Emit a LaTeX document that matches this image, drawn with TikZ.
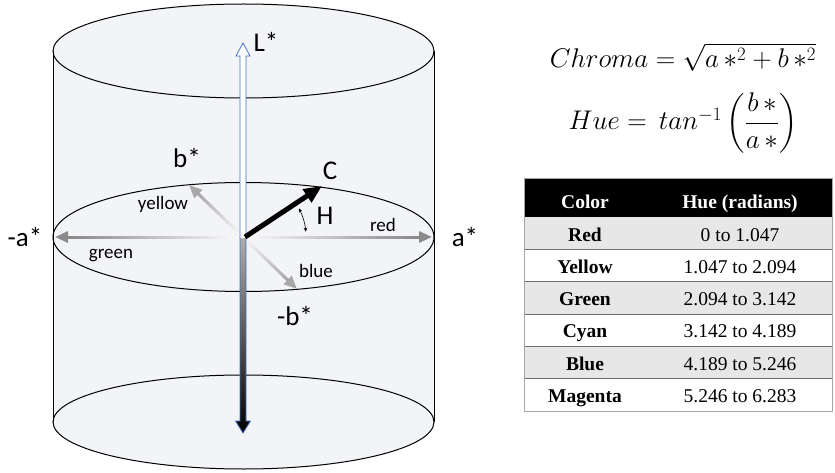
\RequirePackage{fix-cm}
\documentclass[tikz,border=0pt]{standalone}
\usepackage{amsmath}
\usepackage{fontspec}
\newfontfamily\calib{Carlito}
\newfontfamily\tnr{Liberation Serif}
\usetikzlibrary{arrows.meta,calc}
\definecolor{cylfill}{HTML}{F3F4F7}
\definecolor{lblue}{HTML}{4472C4}
\definecolor{agray}{HTML}{8A8A8A}
\definecolor{bgray}{HTML}{A8A8A8}
\definecolor{rowgray}{HTML}{E7E7E7}
\definecolor{rulegray}{HTML}{6E6E6E}
\tikzset{
  biglbl/.style={font=\calib\fontsize{27}{30}\selectfont, inner sep=0pt, anchor=base},
  smalllbl/.style={font=\calib\fontsize{19}{22}\selectfont, inner sep=0pt, anchor=base},
  cell/.style={font=\tnr\fontsize{19.5}{22}\selectfont, inner sep=0pt, anchor=base},
  cellb/.style={font=\tnr\bfseries\fontsize{19.5}{22}\selectfont, inner sep=0pt, anchor=base},
  cylline/.style={draw=black, line width=1pt},
  formula/.style={font=\fontsize{27}{32}\selectfont, inner sep=0pt, anchor=base},
}
\newcommand\gradarr[4]{%
  \foreach \i in {0,...,23}{%
    \pgfmathsetmacro\ta{\i/24*#4}%
    \pgfmathsetmacro\tb{(\i+1)/24*#4+0.005}%
    \pgfmathsetmacro\pc{4+\i*96/23}%
    \draw[line width=3pt, #3!\pc!white] ($(#1)!\ta!(#2)$) -- ($(#1)!\tb!(#2)$);}%
  \draw[#3, line width=3pt, -{Triangle[length=13pt,width=11pt]}] ($(#1)!#4-0.02!(#2)$) -- (#2);}
\begin{document}
\begin{tikzpicture}[x=1pt,y=-1pt]
\useasboundingbox (0,0) rectangle (835,473);
% ---- cylinder
\coordinate (topc) at (243.5,51);
\coordinate (midc) at (243.5,237);
\coordinate (botc) at (243.5,422);
\coordinate (TL) at (53,51);
\coordinate (TR) at (434,51);
\coordinate (BL) at (53,422);
\coordinate (BR) at (434,422);
\fill[cylfill] (TL) rectangle (BR);
\fill[cylfill] (botc) ellipse[x radius=190.5pt, y radius=47pt];
\fill[cylfill] (topc) ellipse[x radius=190.5pt, y radius=47pt];
\draw[cylline] (TL) -- (BL);
\draw[cylline] (TR) -- (BR);
\draw[cylline] (topc) ellipse[x radius=190.5pt, y radius=47pt];
\draw[cylline] (botc) ellipse[x radius=190.5pt, y radius=47pt];
\draw[cylline] (midc) ellipse[x radius=190.5pt, y radius=54.5pt];
% ---- axes in the a*b* plane
\coordinate (O) at (243,237);
\coordinate (Am) at (55,237);
\coordinate (Ap) at (432,237);
\coordinate (Yt) at (189,185);
\coordinate (Bt) at (297,289);
\gradarr{O}{Am}{agray}{0.93}
\gradarr{O}{Ap}{agray}{0.93}
\gradarr{O}{Yt}{bgray}{0.84}
\gradarr{O}{Bt}{bgray}{0.84}
% ---- L* axis
\shadedraw[top color=black!32, bottom color=black, draw=lblue, line width=0.8pt]
  (240,237) -- (240,421) -- (235.5,421) -- (243,433) -- (250.5,421) -- (246,421) -- (246,237);
\filldraw[fill=white, draw=lblue, line width=0.8pt]
  (240,238) -- (240,56) -- (236,56) -- (243,43) -- (250,56) -- (246,56) -- (246,238);
% ---- chroma vector and hue angle
\coordinate (O2) at (245,237);
\coordinate (Ct) at (322,186);
\draw[line width=5pt, -{Triangle[length=18pt,width=15pt]}] (O2) -- (Ct);
\draw[line width=0.6pt, {Stealth[length=4pt,width=3.5pt]}-{Stealth[length=4pt,width=3.5pt]}]
  ($(O2)+(-28:61)$) arc[start angle=-28, end angle=-5, radius=61];
% ---- labels
\node[biglbl] (lL) at (266,52) {L*};
\node[biglbl] (lb) at (187,168) {b*};
\node[biglbl] (lC) at (330,180) {C};
\node[biglbl] (lH) at (325,225) {H};
\node[biglbl] (lmb) at (295,325) {-b*};
\node[biglbl] (lma) at (25,247) {-a*};
\node[biglbl] (la) at (465,247) {a*};
\node[smalllbl] (lyel) at (163,210) {yellow};
\node[smalllbl] (lred) at (383,232) {red};
\node[smalllbl] (lblu) at (316,277) {blue};
\node[smalllbl] (lgrn) at (111,258) {green};
% ---- formulas
\node[formula] (chroma) at (683,68) {$Chroma = \sqrt{a\,{*}^2 + b\,{*}^2}$};
\node[formula] (hue) at (683,130) {$Hue = \,tan^{-1}\left(\dfrac{b\,{*}}{a\,{*}}\right)$};
% ---- table
\fill[black] (524,178) rectangle (832,217);
\foreach \r/\f in {1/rowgray,2/white,3/rowgray,4/white,5/rowgray,6/white}{
  \fill[\f] (524,{217+32.33*(\r-1)}) rectangle (832,{217+32.33*\r});
}
\foreach \r in {1,...,5}{
  \draw[rulegray, line width=0.9pt] (524,{217+32.33*\r}) -- (832,{217+32.33*\r});
}
\draw[gray!70, line width=0.6pt] (524,178) rectangle (832,411);
\node[cellb, text=white] (hc) at (585,208) {Color};
\node[cellb, text=white] (hh) at (740,208) {Hue (radians)};
\foreach \r/\c/\v in {1/Red/0 to 1.047, 2/Yellow/1.047 to 2.094, 3/Green/2.094 to 3.142,
                      4/Cyan/3.142 to 4.189, 5/Blue/4.189 to 5.246, 6/Magenta/5.246 to 6.283}{
  \node[cellb] (c\r) at (585,{217+32.33*(\r-1)+24}) {\c};
  \node[cell] (v\r) at (740,{217+32.33*(\r-1)+24}) {\v};
}
\end{tikzpicture}
\end{document}
